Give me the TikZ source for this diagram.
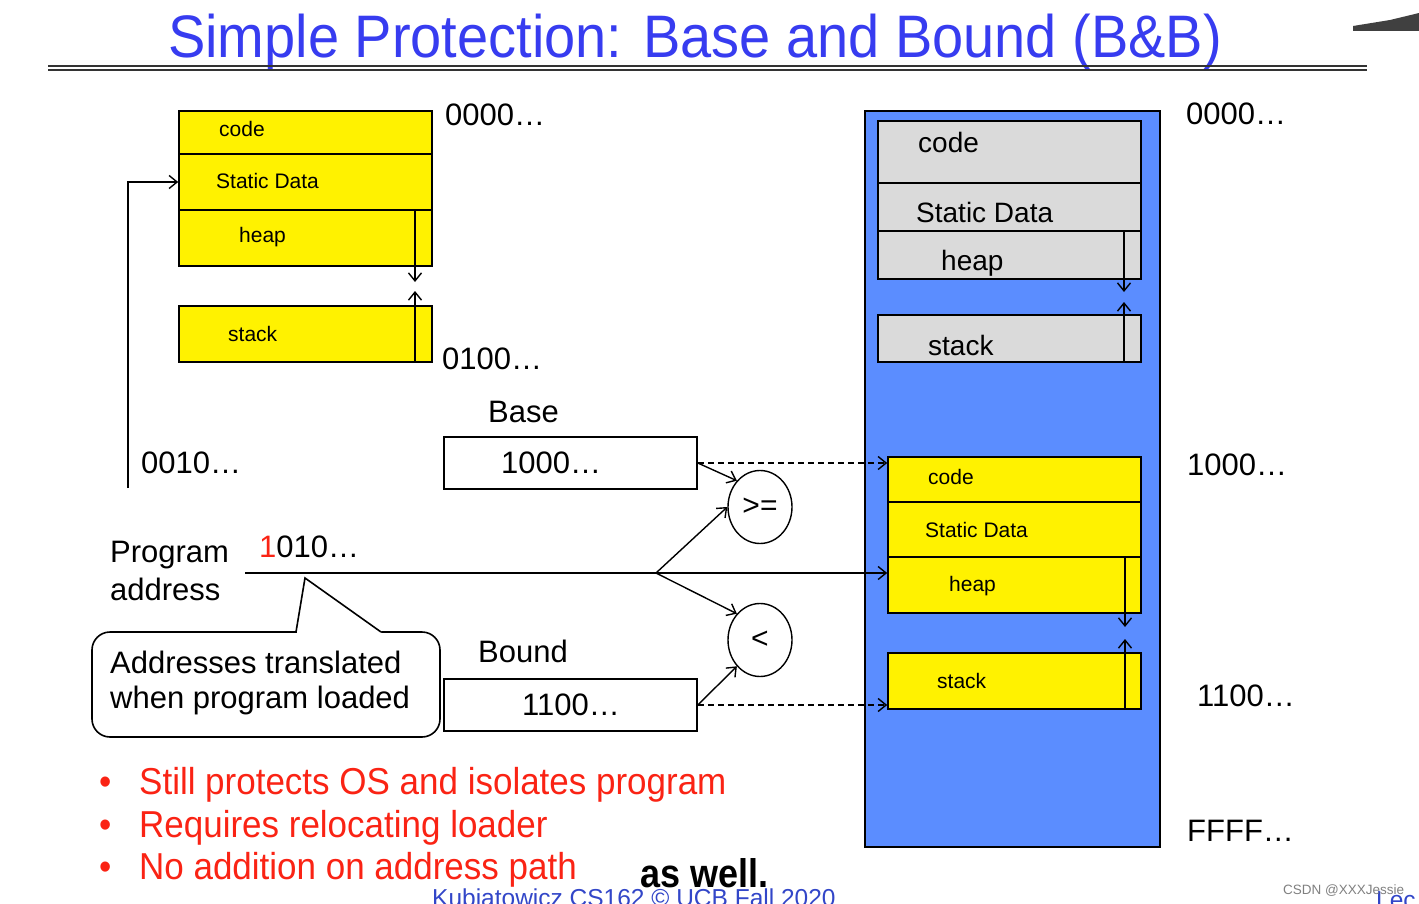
\documentclass[tikz,border=0pt]{standalone}
\usepackage{fontspec}
\setmainfont{Liberation Sans}
\usetikzlibrary{arrows.meta,shapes.geometric,fit,calc}
\definecolor{ttl}{RGB}{55,60,240}
\definecolor{ylw}{RGB}{255,242,0}
\definecolor{memblue}{RGB}{91,141,255}
\definecolor{gry}{RGB}{218,218,218}
\definecolor{bred}{RGB}{250,35,20}
\definecolor{ftblue}{RGB}{50,70,200}
\newcommand\fsz[1]{\fontsize{#1}{#1}\selectfont}
\begin{document}
\begin{tikzpicture}[x=1pt,y=-1pt,
  box/.style={draw, line width=1.6pt, inner sep=0pt},
  ybox/.style={box, fill=ylw},
  gbox/.style={box, fill=gry},
  arr/.style={-{Straight Barb[length=8pt,width=13pt,line width=1.4pt]}, line width=1.4pt},
  lbl/.style={anchor=base west, inner sep=0pt, font=\fsz{31}},
  sml/.style={anchor=base west, inner sep=0pt, font=\fsz{21}},
  mdl/.style={anchor=base west, inner sep=0pt, font=\fsz{28}},
  bul/.style={anchor=base west, inner sep=0pt, font=\fsz{37.5}, text=bred, xscale=0.933, transform shape},
  cmp/.style={draw, ellipse, line width=1.4pt, minimum width=64pt, minimum height=73pt, inner sep=0pt, font=\fsz{30}},
]
\useasboundingbox (0,0) rectangle (1419,904);
% title
\node[anchor=base west, inner sep=0pt, text=ttl, font=\fsz{60}, xscale=0.933, transform shape] (title) at (168,58) {Simple Protection: Base and Bound (B\&B)};
\draw[line width=2.2pt, black!80] (48,66) -- (1367,66);
\draw[line width=2.2pt, black!80] (48,69.8) -- (1367,69.8);
\fill[black!75] (1353,31) -- (1353,26) -- (1390,20) -- (1419,13) -- (1419,31) -- cycle;

% left (program) memory
\node[ybox, fit={(179,111)(432,154)}] (Lcode) {};
\node[ybox, fit={(179,154)(432,210)}] (Lstatic) {};
\node[ybox, fit={(179,210)(432,266)}] (Lheap) {};
\node[ybox, fit={(179,306)(432,362)}] (Lstack) {};
\draw[arr] (415,210) -- (415,282);
\draw[arr] (415,362) -- (415,291);
\node[sml] at (219,137) {code};
\node[sml] at (216,189) {Static Data};
\node[sml] at (239,243) {heap};
\node[sml] at (228,341) {stack};
\node[lbl] at (445,126) {0000…};
\node[lbl] at (442,369) {0100…};
\node[lbl] at (141,473) {0010…};
\coordinate (p0) at (128,488);
\draw[arr] (p0) |- (Lstatic.west);

% base and bound registers
\node[lbl] at (488,422) {Base};
\node[box, fit={(444,437)(697,489)}] (Base) {};
\node[lbl] at (501,473) {1000…};
\node[lbl] at (478,662) {Bound};
\node[box, fit={(444,679)(697,731)}] (Bound) {};
\node[lbl] at (522,715) {1100…};

% comparators
\node[cmp] (ge) at (760,507) {>=};
\node[cmp] (lt) at (760,640) {<};

% right (physical) memory
\node[fill=memblue, draw, line width=1.6pt, inner sep=0pt, fit={(865,111)(1160,847)}] (Rmem) {};
\node[gbox, fit={(878,121)(1141,183)}] (Gcode) {};
\node[gbox, fit={(878,183)(1141,231)}] (Gstatic) {};
\node[gbox, fit={(878,231)(1141,279)}] (Gheap) {};
\node[gbox, fit={(878,315)(1141,362)}] (Gstack) {};
\draw[arr] (1124,231) -- (1124,292);
\draw[arr] (1124,362) -- (1124,302);
\node[mdl] at (918,153) {code};
\node[mdl] at (916,223) {Static Data};
\node[mdl] at (941,270) {heap};
\node[mdl] at (928,355) {stack};

\node[ybox, fit={(888,457)(1141,502)}] (Rcode) {};
\node[ybox, fit={(888,502)(1141,557)}] (Rstatic) {};
\node[ybox, fit={(888,557)(1141,613)}] (Rheap) {};
\node[ybox, fit={(888,653)(1141,709)}] (Rstack) {};
\draw[arr] (1125,557) -- (1125,627);
\draw[arr] (1125,709) -- (1125,639);
\node[sml] at (928,484) {code};
\node[sml] at (925,537) {Static Data};
\node[sml] at (949,591) {heap};
\node[sml] at (937,688) {stack};

\node[lbl] at (1186,125) {0000…};
\node[lbl] at (1187,475) {1000…};
\node[lbl] at (1197,706) {1100…};
\node[lbl] at (1187,841) {FFFF…};

% program address path
\node[lbl] at (110,562) {Program};
\node[lbl] at (110,600) {address};
\node[lbl] at (259,557) {\textcolor{bred}{1}010…};
\coordinate (addr) at (245,573);
\coordinate (br) at (656,573);
\draw[arr] (addr) -- (addr -| Rheap.west);
\draw[arr] (br) -- (ge.west);
\draw[arr] (br) -- (lt.north west);
\draw[arr] (Base.east) -- (ge.north west);
\draw[arr] (Bound.east) -- (lt.south west);
\draw[arr, dash pattern=on 6pt off 4pt] (Base.east) -- (Base.east -| Rcode.west);
\draw[arr, dash pattern=on 6pt off 4pt] (Bound.east) -- (Bound.east -| Rstack.west);

% callout
\node[draw, line width=1.6pt, rounded corners=18pt, fill=white, inner sep=0pt, fit={(92,632)(440,737)}] (callout) {};
\fill[white] (297,629.5) -- (305,578) -- (381,629.5) -- (381,634) -- (297,634) -- cycle;
\draw[line width=1.6pt, line join=miter] (296,632) -- (305,578) -- (381,632);
\node[lbl] at (110,673) {Addresses translated};
\node[lbl] at (110,708) {when program loaded};

% bullets
\node[bul] at (99,794) {•};
\node[bul] at (139,794) {Still protects OS and isolates program};
\node[bul] at (99,837) {•};
\node[bul] at (139,837) {Requires relocating loader};
\node[bul] at (99,879) {•};
\node[bul] at (139,879) {No addition on address path};

% footer and overlays
\node[anchor=base west, inner sep=0pt, font=\fsz{24.5}, text=ftblue] at (432,906) {Kubiatowicz CS162 © UCB Fall 2020};
\node[anchor=base west, inner sep=0pt, font=\fsz{24.5}, text=ftblue] at (1376,908) {Lec};
\node[anchor=base west, inner sep=0pt, font=\bfseries\fsz{40}, xscale=0.9, transform shape] at (640,887) {as well.};
\node[anchor=base west, inner sep=0pt, font=\fsz{13.5}, text=black!50] at (1283,894) {CSDN @XXXJessie};
\end{tikzpicture}
\end{document}
